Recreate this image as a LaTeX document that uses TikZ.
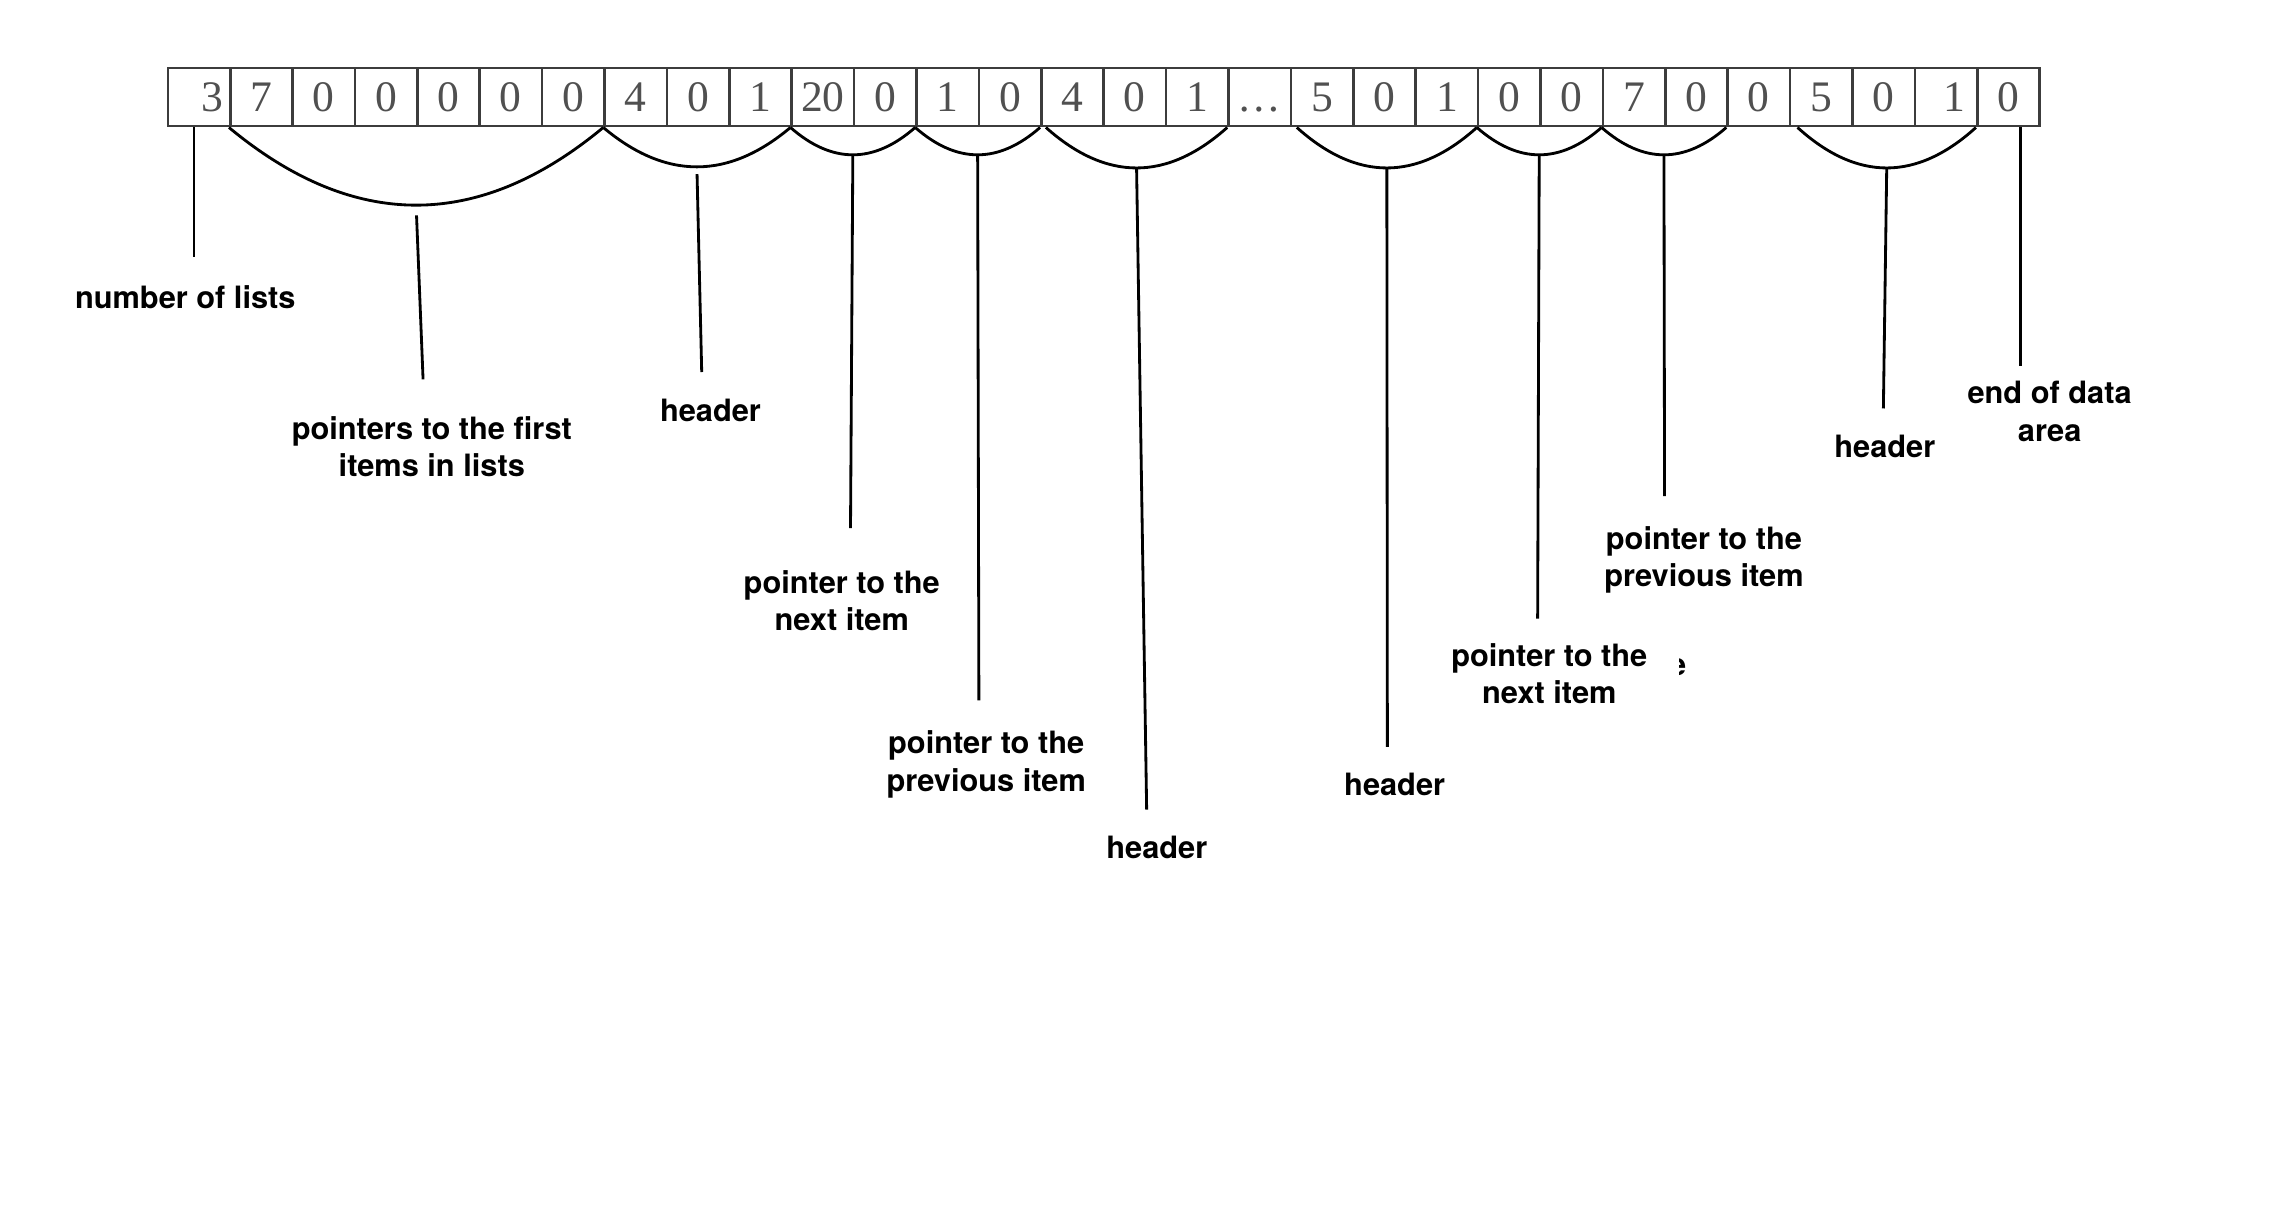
\documentclass[tikz,border=0pt]{standalone}
\usepackage{fontspec}
\setmainfont{Liberation Serif}
\newfontfamily\lblfont{TeX Gyre Heros}
\usepackage{tikz}
\usetikzlibrary{calc,positioning}
\definecolor{boxgray}{HTML}{3C3C3C}
\definecolor{numgray}{HTML}{505050}
\newcommand{\hump}[4]{\draw[hump] (#1) .. controls ($(#1)!1/3!(#2)+(0,#3)$) and ($(#1)!2/3!(#2)+(0,#3)$) .. (#2) coordinate[pos=.5] (#4);}

\begin{document}
\begin{tikzpicture}[x = .02cm, y = -.02cm, every node/.style={anchor = center},
  cell/.style={draw = boxgray, line width = 1pt, minimum width = .8554cm, minimum height = .8cm, inner sep = 0pt, text = numgray, font = \fontsize{17}{17}\selectfont},
  hump/.style={line width = 1.1pt},
  lead/.style={line width = 1.1pt},
  lbl/.style={font = \lblfont\bfseries\fontsize{12}{14.5}\selectfont, align = center, inner sep = 0pt}]
\useasboundingbox (0,0) rectangle (1567,842.6);
\node[cell] (c1) at (136.4,66.5) {\hspace{.38cm}3};
\node[cell] (c2) at (179.2,66.5) {7};
\node[cell] (c3) at (221.9,66.5) {0};
\node[cell] (c4) at (264.7,66.5) {0};
\node[cell] (c5) at (307.5,66.5) {0};
\node[cell] (c6) at (350.2,66.5) {0};
\node[cell] (c7) at (393.0,66.5) {0};
\node[cell] (c8) at (435.8,66.5) {4};
\node[cell] (c9) at (478.6,66.5) {0};
\node[cell] (c10) at (521.3,66.5) {1};
\node[cell] (c11) at (564.1,66.5) {20};
\node[cell] (c12) at (606.9,66.5) {0};
\node[cell] (c13) at (649.6,66.5) {1};
\node[cell] (c14) at (692.4,66.5) {0};
\node[cell] (c15) at (735.2,66.5) {4};
\node[cell] (c16) at (777.9,66.5) {0\hspace{.32cm}};
\node[cell] (c17) at (820.7,66.5) {1};
\node[cell] (c18) at (863.5,66.5) {\vphantom{0}\ldots};
\node[cell] (c19) at (906.2,66.5) {5};
\node[cell] (c20) at (949.0,66.5) {0};
\node[cell] (c21) at (991.8,66.5) {1};
\node[cell] (c22) at (1034.6,66.5) {0};
\node[cell] (c23) at (1077.3,66.5) {0};
\node[cell] (c24) at (1120.1,66.5) {7};
\node[cell] (c25) at (1162.9,66.5) {0};
\node[cell] (c26) at (1205.6,66.5) {0};
\node[cell] (c27) at (1248.4,66.5) {5};
\node[cell] (c28) at (1291.2,66.5) {0};
\node[cell] (c29) at (1333.9,66.5) {\hspace{.24cm}1};
\node[cell] (c30) at (1376.7,66.5) {0};
% groups under the cells
\coordinate (s5) at ($(c15.south west)+(4,0)$);
\coordinate (s6) at ($(c19.south west)+(5,0)$);
\coordinate (s9) at ($(c27.south west)+(6,0)$);
\hump{c2.south west}{c8.south west}{71}{h1}
\hump{c8.south west}{c11.south west}{36}{h2}
\hump{c11.south west}{c13.south west}{25}{h3}
\hump{c13.south west}{c15.south west}{25}{h4}
\hump{s5}{c18.south west}{37}{h5}
\hump{s6}{c22.south west}{37}{h6}
\hump{c22.south west}{c24.south west}{25}{h7}
\hump{c24.south west}{c26.south west}{25}{h8}
\hump{s9}{c30.south west}{37}{h9}
% labels
\node[lbl] (l1) at (127,204) {number of lists};
\node[lbl] (l2) at (296,306) {pointers to the first\\items in lists};
\node[lbl] (l3) at (487,281) {header};
\node[lbl] (l4) at (577,412) {pointer to the\\next item};
\node[lbl] (l5) at (676,524) {pointer to the\\previous item};
\node[lbl] (l6) at (793,581) {header};
\node[lbl] (l7) at (956,538) {header};
\node[lbl] (l8) at (1062,462) {pointer to the\\next item};
\node[lbl] (l9) at (1168,384) {pointer to the\\previous item};
\node[lbl] (l10) at (1292,306) {header};
\node[lbl] (l11) at (1405,282) {end of data\\area};
\begin{scope}
\clip (1151,446) rectangle (1162,466);
\node[lbl] (l8e) at (1150,457) {e};
\end{scope}
% leader lines
\coordinate (e1) at (133,176);
\coordinate (e2) at (290,260);
\coordinate (e3) at (481,255);
\coordinate (e4) at (583,362);
\coordinate (e5) at (671,480);
\coordinate (e6) at (786,555);
\coordinate (e7) at (951,512);
\coordinate (e8) at (1054,424);
\coordinate (e9) at (1141,340);
\coordinate (e10) at (1291,280);
\coordinate (e11) at (1385,251);
\draw[lead] (e1 |- c1.south) -- (e1);
\draw[lead, shorten <= .14cm] (h1) -- (e2);
\draw[lead, shorten <= .1cm] (h2) -- (e3);
\draw[lead] (h3) -- (e4);
\draw[lead] (h4) -- (e5);
\draw[lead] (h5) -- (e6);
\draw[lead] (h6) -- (e7);
\draw[lead] (h7) -- (e8);
\draw[lead] (h8) -- (e9);
\draw[lead] (h9) -- (e10);
\draw[lead] (e11 |- c30.south) -- (e11);
\end{tikzpicture}
\end{document}
